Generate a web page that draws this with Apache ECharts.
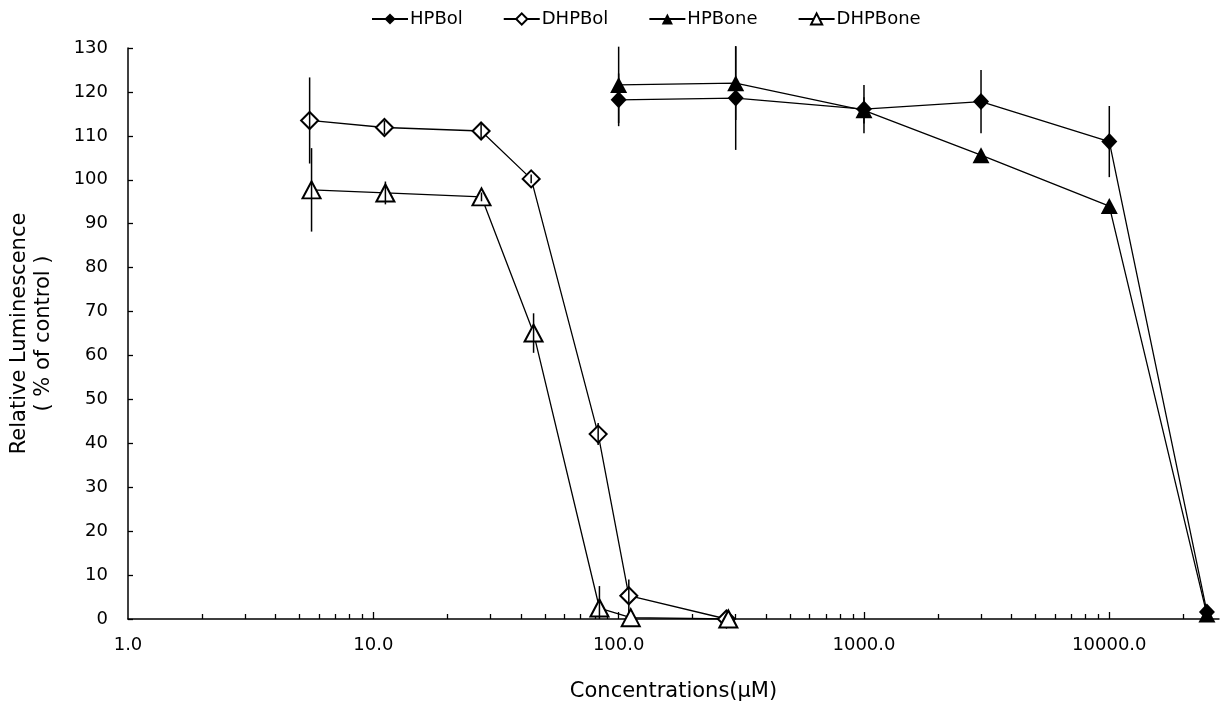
<!DOCTYPE html>
<html>
<head>
<meta charset="utf-8">
<script src="https://cdn.jsdelivr.net/npm/echarts@6/dist/echarts.min.js"></script>
<style>
  html, body { margin: 0; padding: 0; background: #fff; }
  #chart { width: 1226px; height: 706px; }
</style>
</head>
<body>
<div id="chart"></div>
<script>
// concentrations (uM), values (% of control), error bar half-lengths
const hpbolConc = [100, 300, 1000, 3000, 10000, 25000];
const hpbolValue = [118.2, 118.6, 116.1, 117.8, 108.7, 1.6];
const hpbolErr = [6, 11.8, 5.5, 7.2, 8.1, 0];

const dhpbolConc = [5.5, 11.1, 27.5, 44, 82.5, 110, 275];
const dhpbolValue = [113.5, 111.9, 111.1, 100.2, 42.1, 5.3, 0];
const dhpbolErr = [9.8, 1.5, 2, 1, 2.5, 3.7, 0];

const hpboneConc = [100, 300, 1000, 3000, 10000, 25000];
const hpboneValue = [121.6, 122.0, 115.8, 105.6, 94.0, 1.0];
const hpboneErr = [8.7, 8.4, 3, 0, 0, 0];

const dhpboneConc = [5.6, 11.2, 27.6, 45, 83.5, 112, 280];
const dhpboneValue = [97.7, 97.0, 96.1, 65.1, 2.5, 0.3, 0];
const dhpboneErr = [9.5, 2.6, 1, 4.5, 5, 0, 0];

const xLabelValues = [1, 10, 100, 1000, 10000];
const xMajorTicks = [10, 100, 1000, 10000];
const xMinorTicks = [
  2, 3, 4, 5, 6, 7, 8, 9,
  20, 30, 40, 50, 60, 70, 80, 90,
  200, 300, 400, 500, 600, 700, 800, 900,
  2000, 3000, 4000, 5000, 6000, 7000, 8000, 9000,
  20000,
];

const FONT = "DejaVu Sans";
const BLACK = "#000";

function zip(xs, ys) {
  return xs.map((x, i) => [x, ys[i]]);
}

function zip3(xs, ys, es) {
  return xs.map((x, i) => [x, ys[i], es[i]]);
}

function renderErrorBar(params, api) {
  const x = api.value(0);
  const y = api.value(1);
  const e = api.value(2);
  if (!e) return null;
  const top = api.coord([x, y + e]);
  const bottom = api.coord([x, Math.max(y - e, 0)]);
  return {
    type: "line",
    shape: { x1: top[0], y1: top[1], x2: bottom[0], y2: bottom[1] },
    style: { stroke: BLACK, lineWidth: 1.5 },
  };
}

function lineSeries(name, conc, values, symbol, size, filled) {
  return {
    name,
    type: "line",
    data: zip(conc, values),
    symbol,
    symbolSize: size,
    showAllSymbol: true,
    z: 2,
    lineStyle: { color: BLACK, width: 1.3 },
    itemStyle: filled
      ? { color: BLACK, borderColor: BLACK, borderWidth: 0 }
      : { color: BLACK, borderColor: BLACK, borderWidth: 1.3 },
    emphasis: { disabled: true },
  };
}

function errorSeries(name, conc, values, errs) {
  return {
    name: name + " err",
    type: "custom",
    renderItem: renderErrorBar,
    data: zip3(conc, values, errs),
    encode: { x: 0, y: 1 },
    z: 5,
    silent: true,
  };
}

const chart = echarts.init(document.getElementById("chart"), null, { renderer: "canvas" });

const axisBase = {
  type: "log",
  logBase: 10,
  min: 1,
  max: 28000,
};

chart.setOption({
  animation: false,
  backgroundColor: "#fff",
  textStyle: { fontFamily: FONT, color: BLACK },
  legend: {
    data: ["HPBol", "DHPBol", "HPBone", "DHPBone"],
    top: 5,
    left: 366,
    itemWidth: 36,
    itemHeight: 14,
    itemGap: 40,
    textStyle: { fontFamily: FONT, fontSize: 18, color: BLACK, padding: [0, 0, 0, -3] },
  },
  grid: {
    left: 128, right: 7, top: 48, bottom: 87,
    containLabel: false,
    outerBoundsMode: "none",
  },
  xAxis: [
    Object.assign({}, axisBase, {
      name: "Concentrations(μM)",
      nameLocation: "middle",
      nameGap: 62,
      nameTextStyle: { fontFamily: FONT, fontSize: 21, color: BLACK },
      axisLine: { lineStyle: { color: BLACK, width: 1.5 } },
      axisTick: { show: true, inside: true, length: 5, customValues: xMinorTicks, lineStyle: { color: BLACK, width: 1.3 } },
      axisLabel: {
        customValues: xLabelValues,
        margin: 17,
        fontFamily: FONT,
        fontSize: 18,
        color: BLACK,
        formatter: (v) => Number(v).toFixed(1),
      },
      splitLine: { show: false },
    }),
    Object.assign({}, axisBase, {
      position: "bottom",
      axisLine: { show: false },
      axisTick: { show: true, inside: true, length: 7, customValues: xMajorTicks, lineStyle: { color: BLACK, width: 1.3 } },
      axisLabel: { show: false },
      splitLine: { show: false },
    }),
  ],
  yAxis: {
    type: "value",
    min: 0,
    max: 130,
    interval: 10,
    name: "Relative Luminescence\n( % of control )",
    nameLocation: "middle",
    nameRotate: 90,
    nameGap: 72,
    nameTextStyle: { fontFamily: FONT, fontSize: 21, color: BLACK, lineHeight: 24 },
    axisLine: { show: true, lineStyle: { color: BLACK, width: 1.5 } },
    axisTick: { show: true, inside: true, length: 5, lineStyle: { color: BLACK, width: 1.3 } },
    axisLabel: { margin: 20, fontFamily: FONT, fontSize: 18, color: BLACK },
    splitLine: { show: false },
  },
  series: [
    lineSeries("HPBol", hpbolConc, hpbolValue, "diamond", [16, 17], true),
    lineSeries("DHPBol", dhpbolConc, dhpbolValue, "emptyDiamond", [17, 17], false),
    lineSeries("HPBone", hpboneConc, hpboneValue, "triangle", [17, 16], true),
    lineSeries("DHPBone", dhpboneConc, dhpboneValue, "emptyTriangle", [18, 17], false),
    errorSeries("HPBol", hpbolConc, hpbolValue, hpbolErr),
    errorSeries("DHPBol", dhpbolConc, dhpbolValue, dhpbolErr),
    errorSeries("HPBone", hpboneConc, hpboneValue, hpboneErr),
    errorSeries("DHPBone", dhpboneConc, dhpboneValue, dhpboneErr),
  ],
});
</script>
</body>
</html>
